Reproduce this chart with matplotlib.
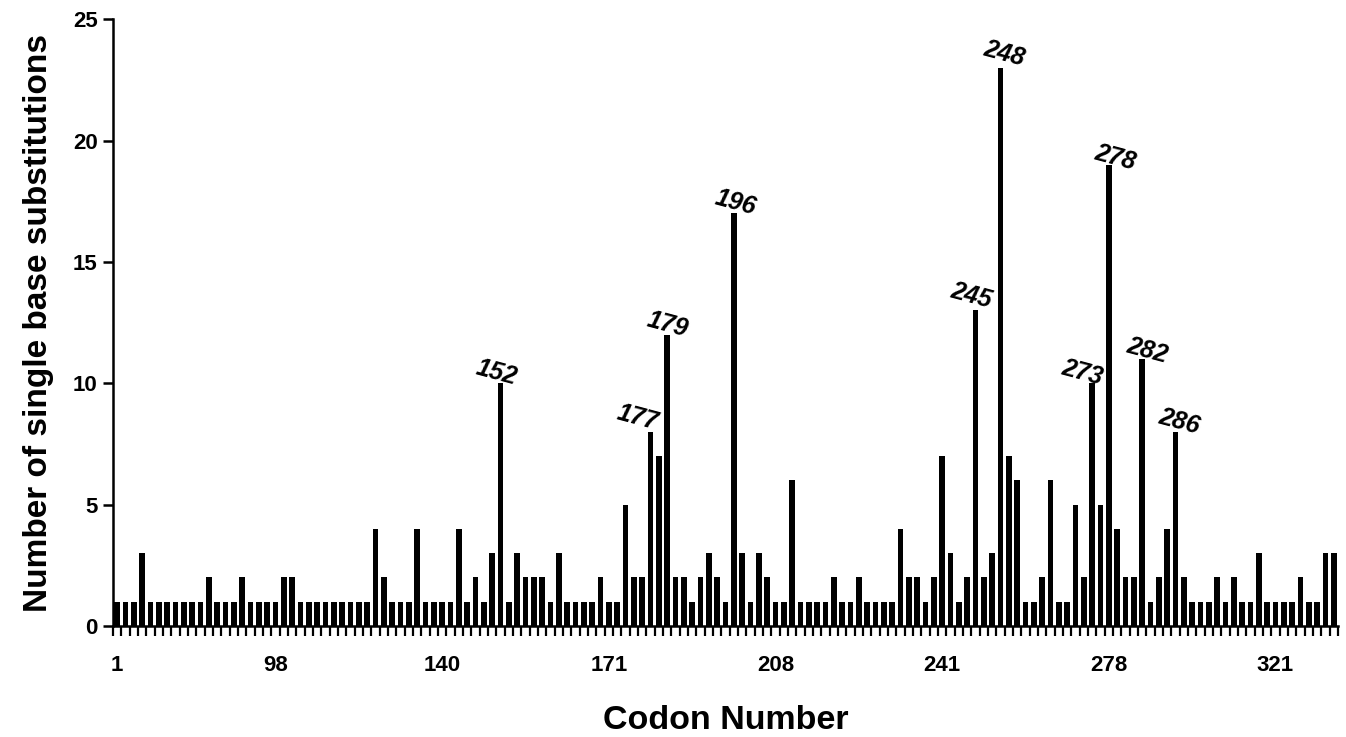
import numpy as np
import matplotlib
matplotlib.use("Agg")
import matplotlib.pyplot as plt
from matplotlib.ticker import FixedLocator

# single base substitutions per codon (only codons with at least one hit)
counts = [
    1, 1, 1, 3, 1, 1, 1, 1, 1, 1, 1, 2, 1, 1, 1, 2, 1, 1,
    1, 1, 2, 2, 1, 1, 1, 1, 1, 1, 1, 1, 1, 4, 2, 1, 1, 1, 4,
    1, 1, 1, 1, 4, 1, 2, 1, 3, 10, 1, 3, 2, 2, 2, 1, 3, 1,
    1, 1, 1, 2, 1, 1, 5, 2, 2, 8, 7, 12, 2, 2, 1, 2, 3, 2, 1,
    17, 3, 1, 3, 2, 1, 1, 6, 1, 1, 1, 1, 2, 1, 1, 2, 1, 1, 1,
    1, 4, 2, 2, 1, 2, 7, 3, 1, 2, 13, 2, 3, 23, 7, 6, 1, 1,
    2, 6, 1, 1, 5, 2, 10, 5, 19, 4, 2, 2, 11, 1, 2, 4, 8, 2, 1,
    1, 1, 2, 1, 2, 1, 1, 3, 1, 1, 1, 1, 2, 1, 1, 3, 3,
]

# x tick labels (codon numbers) and the bar they sit under
tick_labels = ["1", "98", "140", "171", "208", "241", "278", "321"]
tick_bars = [0, 19, 39, 59, 79, 99, 119, 139]

# hotspot codons labelled above their bars
hotspots = ["152", "177", "179", "196", "245", "248", "273", "278", "282", "286"]
hotspot_bars = [46, 64, 66, 74, 103, 106, 117, 119, 123, 127]
# label offsets in points (dx, dy) from bar top
hotspot_offsets = [(-3, 8), (-9, 10), (0, 7), (1, 8), (-3, 11),
                   (3, 10), (-7, 8), (5, 5), (4, 6), (3, 7)]

plt.rcParams["font.family"] = ["Liberation Sans", "DejaVu Sans"]
plt.rcParams["font.weight"] = "bold"

fig = plt.figure(figsize=(13.46, 7.37), dpi=100)
ax = fig.add_axes([0.084, 0.1506, 0.91, 0.8234])

x = np.arange(len(counts))
ax.bar(x, counts, width=0.66, color="black", zorder=2)

ax.set_xlim(-0.5, len(counts) - 0.5)
ax.set_ylim(0, 25)
ax.set_yticks([0, 5, 10, 15, 20, 25])

ax.set_xticks(tick_bars)
ax.set_xticklabels(tick_labels)
ax.xaxis.set_minor_locator(FixedLocator(np.arange(-0.5, len(counts), 1.0)))
ax.tick_params(axis="x", which="major", length=0, pad=21, labelsize=16)
ax.tick_params(axis="x", which="minor", direction="out", length=7, width=1.6)
ax.tick_params(axis="y", which="major", direction="out", length=7, width=1.8,
               labelsize=16, pad=4)

for s in ["top", "right"]:
    ax.spines[s].set_visible(False)
for s in ["left", "bottom"]:
    ax.spines[s].set_linewidth(1.8)

for lab, b, (dx, dy) in zip(hotspots, hotspot_bars, hotspot_offsets):
    ax.annotate(lab, xy=(b, counts[b]), xytext=(dx, dy), textcoords="offset points",
                ha="center", va="center", fontsize=18, fontweight="bold",
                fontstyle="italic", rotation=-15)

ax.set_xlabel("Codon Number", fontsize=24.5, fontweight="bold", labelpad=21)
ax.set_ylabel("Number of single base substitutions", fontsize=24, fontweight="bold",
              labelpad=14)

fig.savefig("out.png", dpi=100)
